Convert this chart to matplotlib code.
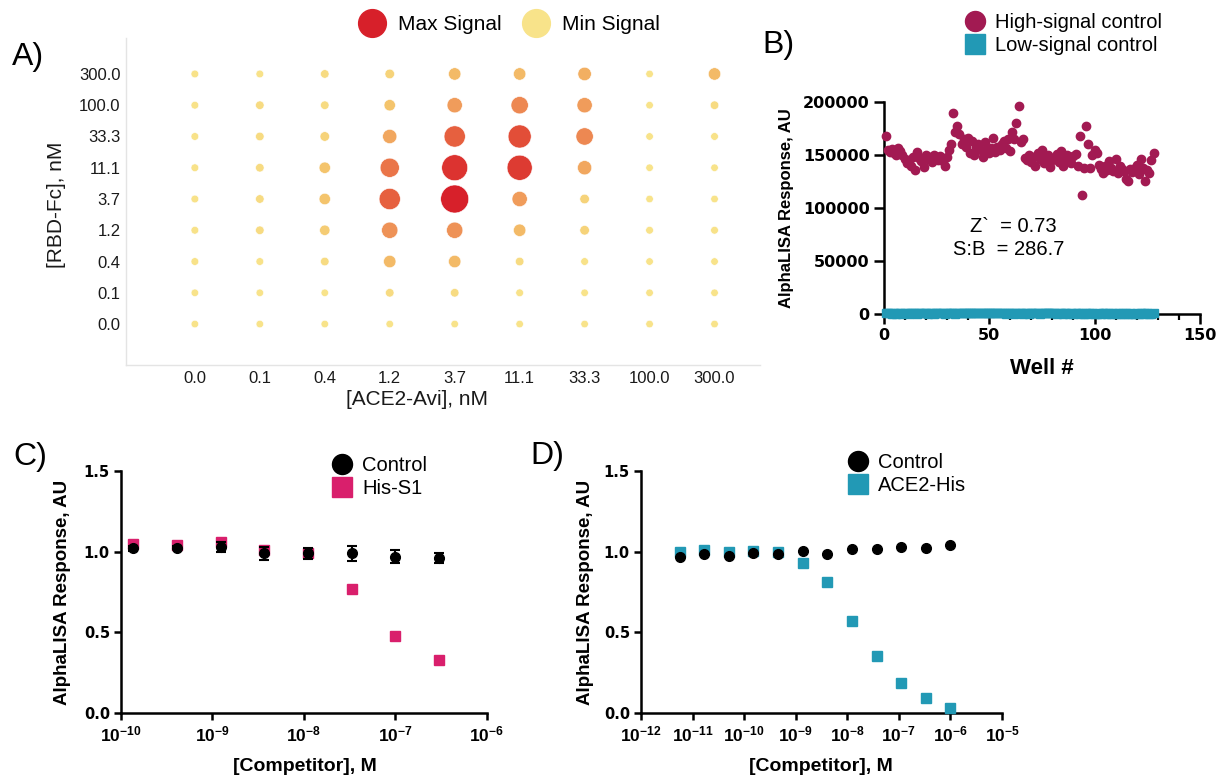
import numpy as np
import matplotlib
matplotlib.use("Agg")
import matplotlib.pyplot as plt
from matplotlib.colors import LinearSegmentedColormap
from matplotlib.lines import Line2D
from matplotlib.ticker import MultipleLocator, NullLocator

plt.rcParams['font.family'] = ['Liberation Sans', 'DejaVu Sans']
plt.rcParams['mathtext.fontset'] = 'custom'
plt.rcParams['mathtext.rm'] = 'Liberation Sans'
plt.rcParams['mathtext.bf'] = 'Liberation Sans:bold'

# ---- panel A: checkerboard titration (signal, % of max) ----
ace2_labels = ['0.0', '0.1', '0.4', '1.2', '3.7', '11.1', '33.3', '100.0', '300.0']
rbd_labels = ['300.0', '100.0', '33.3', '11.1', '3.7', '1.2', '0.4', '0.1', '0.0']  # top -> bottom
signal = [
    [1, 1, 5, 10, 24, 24, 29, 0, 24],
    [1, 5, 5, 19, 38, 48, 38, 0, 5],
    [1, 5, 10, 33, 67, 76, 48, 0, 1],
    [1, 5, 19, 57, 90, 86, 33, 0, 0],
    [1, 5, 19, 67, 100, 38, 10, 0, 0],
    [1, 5, 14, 43, 43, 24, 10, 1, 1],
    [1, 1, 5, 24, 24, 5, 1, 0, 0],
    [0, 0, 0, 5, 5, 1, 0, 0, 0],
    [0, 0, 0, 0, 0, 0, 0, 0, 0],
]

# ---- panel B: plate uniformity ----
high_signal_k = [
    168, 155, 153, 156, 152, 150, 157, 154, 150, 146,
    142, 145, 140, 148, 136, 153, 147, 144, 139, 150,
    146, 148, 143, 150, 147, 145, 149, 144, 140, 148,
    155, 160, 190, 172, 177, 170, 160, 165, 158, 166,
    152, 163, 150, 158, 160, 155, 148, 162, 156, 152,
    157, 166, 153, 158, 155, 160, 163, 157, 165, 154,
    172, 165, 180, 196, 162, 165, 147, 145, 150, 143,
    148, 140, 152, 146, 155, 142, 148, 150, 139, 145,
    147, 151, 143, 154, 140, 147, 150, 145, 142, 149,
    151, 140, 168, 112, 138, 177, 160, 138, 150, 155,
    152, 141, 137, 133, 140, 136, 144, 138, 135, 146,
    133, 140, 137, 135, 127, 125, 137, 134, 138, 141,
    132, 146, 138, 125, 136, 133, 145, 152,
]
low_signal = [
    520, 480, 610, 450, 530, 470, 560, 500, 440, 590,
    510, 470, 530, 620, 480, 450, 560, 520, 490, 540,
    470, 600, 510, 460, 530, 480, 550, 500, 460, 520,
    580, 490, 530, 470, 510, 600, 480, 540, 500, 560,
    620, 510, 700, 540, 980, 590, 520, 610, 480, 550,
    530, 600, 490, 560, 1100, 620, 510, 470, 580, 530,
    500, 460, 540, 490, 520, 470, 560, 500, 450, 530,
    490, 560, 510, 470, 530, 480, 620, 1400, 900, 540,
    500, 470, 520, 480, 450, 510, 490, 460, 520, 470,
    480, 510, 460, 500, 470, 530, 450, 490, 510, 460,
    470, 500, 450, 520, 480, 460, 510, 470, 490, 450,
    480, 460, 500, 470, 490, 450, 480, 460, 470, 500,
    460, 490, 470, 480, 500, 450, 470, 490,
]
wells = np.arange(1, len(high_signal_k) + 1)

# ---- panel C: His-S1 competition ----
c_conc = [1.37e-10, 4.1e-10, 1.23e-9, 3.7e-9, 1.11e-8, 3.33e-8, 1e-7, 3e-7]
c_hiss1 = [1.05, 1.04, 1.06, 1.01, 0.99, 0.77, 0.48, 0.33]
c_control = [1.02, 1.025, 1.03, 0.99, 0.99, 0.99, 0.97, 0.96]
c_control_err = [0.015, 0.01, 0.03, 0.04, 0.035, 0.045, 0.04, 0.03]
c_xticks = [1e-10, 1e-9, 1e-8, 1e-7, 1e-6]

# ---- panel D: ACE2-His competition ----
d_conc = [5.6e-12, 1.7e-11, 5.1e-11, 1.5e-10, 4.6e-10, 1.4e-9,
          4.1e-9, 1.23e-8, 3.7e-8, 1.11e-7, 3.33e-7, 1e-6]
d_ace2his = [1.0, 1.01, 0.995, 1.005, 1.0, 0.928, 0.81, 0.568, 0.353, 0.186, 0.091, 0.033]
d_control = [0.969, 0.983, 0.975, 0.99, 0.983, 1.006, 0.985, 1.014, 1.018, 1.031, 1.025, 1.04]
d_xticks = [1e-12, 1e-11, 1e-10, 1e-9, 1e-8, 1e-7, 1e-6, 1e-5]

maroon = '#A21A52'
cyan = '#2299B5'
pink = '#D91F6C'
red_max = '#D7202A'
yellow_min = '#F8E38A'

W, H = 1217, 780
fig = plt.figure(figsize=(W / 100, H / 100), dpi=100)


def box(l, t, r, b):
    return [l / W, 1 - b / H, (r - l) / W, (b - t) / H]


# ---------------- A ----------------
axA = fig.add_axes(box(126, 38, 760, 365))
cmap = LinearSegmentedColormap.from_list(
    'sig', [(0, yellow_min), (0.2, '#F4C26A'), (0.45, '#EE8E55'), (0.7, '#E55A3C'), (1.0, red_max)])
sig = np.array(signal, dtype=float)
nrow, ncol = sig.shape
xx, yy = np.meshgrid(np.arange(ncol), np.arange(nrow)[::-1])
diam_px = 7.5 + 20.5 * sig / 100
axA.scatter(xx.ravel(), yy.ravel(), s=(diam_px.ravel() * 0.72) ** 2,
            c=cmap(sig.ravel() / 100), edgecolors='white', linewidths=0.4, zorder=3)
axA.set_xlim(-1.06, 8.7)
axA.set_ylim(-1.31, 9.15)
axA.set_xticks(range(ncol), labels=ace2_labels)
axA.set_yticks(range(nrow), labels=rbd_labels[::-1])
axA.tick_params(length=0, labelsize=12, colors='#1a1a1a', pad=4)
for s in ['top', 'right']:
    axA.spines[s].set_visible(False)
for s in ['left', 'bottom']:
    axA.spines[s].set_color('#e4e4e4')
    axA.spines[s].set_linewidth(1)
axA.set_xlabel('[ACE2-Avi], nM', fontsize=15, color='#1a1a1a', va='center')
axA.set_ylabel('[RBD-Fc], nM', fontsize=15, color='#1a1a1a', va='center')
axA.xaxis.set_label_coords(0.459, -0.107)
axA.yaxis.set_label_coords(-0.110, 0.489)

handlesA = [Line2D([], [], ls='none', marker='o', ms=20, color=red_max),
            Line2D([], [], ls='none', marker='o', ms=20, color=yellow_min)]
fig.legend(handlesA, ['Max Signal', 'Min Signal'], loc='center left',
           bbox_to_anchor=(357 / W, 1 - 25 / H), ncol=2, frameon=False, fontsize=15,
           handlelength=1.4, handletextpad=0.55, columnspacing=0.95, borderpad=0,
           borderaxespad=0)


def style_prism(ax):
    for s in ['top', 'right']:
        ax.spines[s].set_visible(False)
    for s in ['left', 'bottom']:
        ax.spines[s].set_linewidth(1.8)
    ax.tick_params(width=1.8, length=5, direction='out', pad=3)


# ---------------- B ----------------
axB = fig.add_axes(box(883.5, 102, 1200, 314))
axB.plot(wells, np.array(high_signal_k) * 1000, ls='none', marker='o', ms=6,
         color=maroon, clip_on=False, zorder=3, label='High-signal control')
axB.plot(wells, low_signal, ls='none', marker='s', ms=5.5, color=cyan,
         clip_on=False, zorder=3, label='Low-signal control')
axB.set_xlim(0, 150)
axB.set_ylim(0, 200000)
style_prism(axB)
axB.tick_params(length=7)
axB.tick_params(which='minor', length=4.5, width=1.6)
axB.xaxis.set_minor_locator(MultipleLocator(10))
bt = [0, 50000, 100000, 150000, 200000]
axB.set_yticks(bt, labels=[str(v) for v in bt], fontsize=11.5, fontweight='bold',
               family='DejaVu Sans')
bx = [0, 50, 100, 150]
axB.set_xticks(bx, labels=[str(v) for v in bx], fontsize=11.5, fontweight='bold',
               family='DejaVu Sans')
axB.set_xlabel('Well #', fontsize=16, fontweight='bold', va='center')
axB.set_ylabel('AlphaLISA Response, AU', fontsize=12, fontweight='bold', va='center')
axB.xaxis.set_label_coords(0.50, -0.259)
axB.yaxis.set_label_coords(-0.305, 0.5)
axB.text(0.273, 0.413, 'Z`  = 0.73', transform=axB.transAxes, fontsize=14.5, va='center')
axB.text(0.22, 0.302, 'S:B  = 286.7', transform=axB.transAxes, fontsize=14.5, va='center')
hB = [Line2D([], [], ls='none', marker='o', ms=14.4, color=maroon),
      Line2D([], [], ls='none', marker='s', ms=14.4, color=cyan)]
fig.legend(hB, ['High-signal control', 'Low-signal control'], loc='upper left',
           bbox_to_anchor=(965 / W, 1 - 13 / H), frameon=False, fontsize=14.5,
           handlelength=1.0, handletextpad=0.5, labelspacing=0.22, borderpad=0,
           borderaxespad=0)


def decade_labels(ticks):
    return [r'$\mathbf{10^{%d}}$' % round(np.log10(t)) for t in ticks]


def style_competition(ax, ticks):
    ax.set_xscale('log')
    ax.set_xlim(ticks[0], ticks[-1])
    ax.set_ylim(0, 1.5)
    style_prism(ax)
    ax.set_xticks(ticks, labels=decade_labels(ticks), fontsize=12.5)
    ax.xaxis.set_minor_locator(NullLocator())
    yt = [0.0, 0.5, 1.0, 1.5]
    ax.set_yticks(yt, labels=['%.1f' % v for v in yt], fontsize=10.5,
                  fontweight='bold', family='DejaVu Sans')
    ax.set_xlabel('[Competitor], M', fontsize=14, fontweight='bold', va='center')
    ax.set_ylabel('AlphaLISA Response, AU', fontsize=13.5, fontweight='bold', va='center')


# ---------------- C ----------------
axC = fig.add_axes(box(121, 471, 486.6, 713))
axC.plot(c_conc, c_hiss1, ls='none', marker='s', ms=6.5, color=pink, clip_on=False,
         zorder=3)
axC.errorbar(c_conc, c_control, yerr=c_control_err, fmt='o', ms=7, color='black',
             elinewidth=1.5, capsize=3.5, capthick=1.5, clip_on=False, zorder=4)
style_competition(axC, c_xticks)
axC.xaxis.set_label_coords(0.503, -0.223)
axC.yaxis.set_label_coords(-0.161, 0.5)
hC = [Line2D([], [], ls='none', marker='o', ms=14.4, color='black'),
      Line2D([], [], ls='none', marker='s', ms=14.4, color=pink)]
fig.legend(hC, ['Control', 'His-S1'], loc='upper left',
           bbox_to_anchor=(332 / W, 1 - 456 / H), frameon=False, fontsize=14.5,
           handlelength=1.0, handletextpad=0.5, labelspacing=0.2, borderpad=0,
           borderaxespad=0)

# ---------------- D ----------------
axD = fig.add_axes(box(641, 471, 1002, 713))
axD.plot(d_conc, d_ace2his, ls='none', marker='s', ms=6.5, color=cyan, clip_on=False,
         zorder=3)
axD.plot(d_conc, d_control, ls='none', marker='o', ms=7, color='black', clip_on=False,
         zorder=4)
style_competition(axD, d_xticks)
axD.xaxis.set_label_coords(0.499, -0.223)
axD.yaxis.set_label_coords(-0.155, 0.5)
hD = [Line2D([], [], ls='none', marker='o', ms=14.4, color='black'),
      Line2D([], [], ls='none', marker='s', ms=14.4, color=cyan)]
fig.legend(hD, ['Control', 'ACE2-His'], loc='upper left',
           bbox_to_anchor=(848 / W, 1 - 453 / H), frameon=False, fontsize=14.5,
           handlelength=1.0, handletextpad=0.5, labelspacing=0.2, borderpad=0,
           borderaxespad=0)

# panel letters
fig.text(12 / W, 1 - 57 / H, 'A)', fontsize=23, va='center')
fig.text(762 / W, 1 - 45 / H, 'B)', fontsize=23, va='center')
fig.text(13 / W, 1 - 457 / H, 'C)', fontsize=23, va='center')
fig.text(530 / W, 1 - 456 / H, 'D)', fontsize=23, va='center')

fig.savefig('out.png', dpi=100)
